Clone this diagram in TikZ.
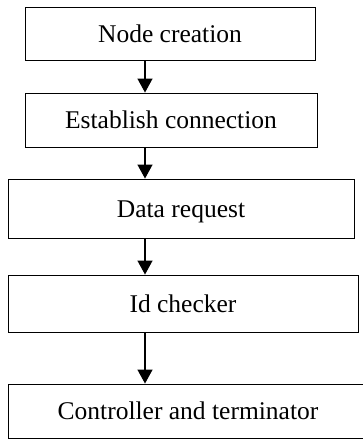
\documentclass[tikz,border=0pt]{standalone}
\usepackage{fontspec}
\setmainfont{Liberation Serif}
\usetikzlibrary{arrows.meta}
\begin{document}
\begin{tikzpicture}[x=1pt,y=1pt,
  stepbox/.style={draw=black,line width=0.9pt,inner sep=0pt,
    font=\fontsize{25.5}{30}\selectfont,text height=17pt,text depth=0pt},
  arr/.style={line width=1.4pt,-{Triangle[width=15pt,length=14pt]}}]
\useasboundingbox (0,0) rectangle (363,-439);
\node[stepbox,minimum width=290pt,minimum height=53pt] (n1) at (170,-33.5) {Node creation};
\node[stepbox,minimum width=292pt,minimum height=54pt] (n2) at (171,-120) {Establish connection};
\node[stepbox,minimum width=346pt,minimum height=59pt] (n3) at (181,-208.5) {Data request};
\node[stepbox,minimum width=350pt,minimum height=57pt] (n4) at (183,-303.5) {Id checker};
\node[stepbox,minimum width=360pt,minimum height=54pt] (n5) at (188,-411) {Controller and terminator};
\coordinate (ax) at (145,0);
\draw[arr] (n1.south -| ax) -- (n2.north -| ax);
\draw[arr] (n2.south -| ax) -- (n3.north -| ax);
\draw[arr] (n3.south -| ax) -- (n4.north -| ax);
\draw[arr] (n4.south -| ax) -- (n5.north -| ax);
\end{tikzpicture}
\end{document}
